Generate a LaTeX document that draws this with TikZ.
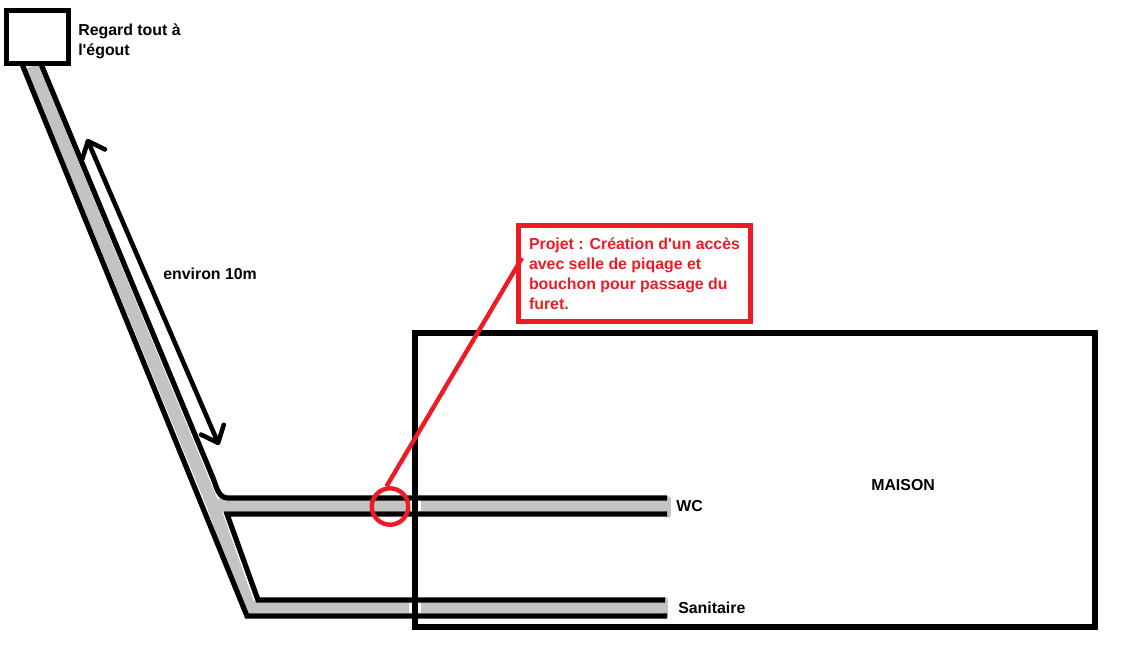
\documentclass[tikz,border=0pt]{standalone}
\usepackage{fontspec}
\setmainfont{Liberation Sans}[Ligatures=TeXOff]
\usetikzlibrary{arrows.meta}
\definecolor{pipegrey}{HTML}{C3C3C3}
\definecolor{projred}{HTML}{ED1C24}
\tikzset{
  wall/.style={line width=0.13cm, line join=miter},
  pipefill/.style={pipegrey, line width=0.32cm},
  pipeend/.style={pipegrey, line width=0.14cm, line cap=round},
  lbl/.style={font=\bfseries\fontsize{11.3}{14.2}\selectfont, inner sep=0pt, align=left, anchor=west},
}
\begin{document}
\begin{tikzpicture}[x=0.025cm, y=-0.025cm]
  \useasboundingbox (0,0) rectangle (1121,654);
  % points of the pipes
  \coordinate (lefttop) at (22,64);
  \coordinate (leftbot) at (247,616);
  \coordinate (sanbot) at (667,616);
  \coordinate (rightop) at (41,64);
  \coordinate (rightmid) at (213,478);
  \coordinate (wctop) at (667,498);
  \coordinate (wcjoin) at (228,498);
  \coordinate (wcbot) at (667,514);
  \coordinate (lowjoin) at (227,514);
  \coordinate (santurn) at (258,600);
  \coordinate (santop) at (665,600);
  \coordinate (flechea) at (87,139);
  \coordinate (flecheb) at (219,445);
  \coordinate (piquage) at (522,258);
  % grey inside
  \begin{scope}[pipefill]
    \draw (32,66) -- (213,505) -- (249,607) -- (409,607);
    \draw (421,607) -- (663,607);
    \draw (213,505) -- (407,505);
    \draw (421,505) -- (666,505);
  \end{scope}
  \draw[pipeend] (668,499) -- (668,515);
  \draw[pipeend] (665,600) -- (665,616);
  % black walls
  \begin{scope}[wall]
    \draw (lefttop) -- (leftbot) -- (sanbot);
    \draw (rightop) -- (rightmid) to[out=-68,in=180] (wcjoin) -- (wctop);
    \draw (wcbot) -- (lowjoin) -- (santurn) -- (santop);
    \draw[{Straight Barb[length=0.36cm,width=0.62cm,round]}-{Straight Barb[length=0.36cm,width=0.62cm,round]}, line width=0.115cm] (flechea) -- (flecheb);
  \end{scope}
  \path (37.5,37) node[draw, wall, fill=white, minimum width=1.56cm, minimum height=1.34cm] (regard) {};
  \path (755,480) node[draw, wall, minimum width=17cm, minimum height=7.35cm] (maison) {};
  % labels
  \path (78,41.5) node[lbl] (regardtxt) {Regard tout à\\l'égout};
  \path (163,274) node[lbl] (longueur) {environ 10m};
  \path (871,485.5) node[lbl] (maisontxt) {MAISON};
  \path (676,506) node[lbl] (wc) {WC};
  \path (678,607.5) node[lbl] (sanitaire) {Sanitaire};
  % red part
  \begin{scope}[projred]
    \path (634.5,273.5) node[draw, line width=0.125cm, minimum width=5.79cm, minimum height=2.4cm, font=\bfseries\fontsize{11.3}{14.2}\selectfont, align=left, inner sep=0pt] (projet) {Projet : Création d'un accès\\avec selle de piqage et\\bouchon pour passage du\\furet.};
    \path (390,506.5) node[draw, circle, line width=0.11cm, minimum size=0.91cm, inner sep=0pt] (acces) {};
    \draw[line width=0.11cm] (piquage) -- (acces.100);
  \end{scope}
\end{tikzpicture}
\end{document}
